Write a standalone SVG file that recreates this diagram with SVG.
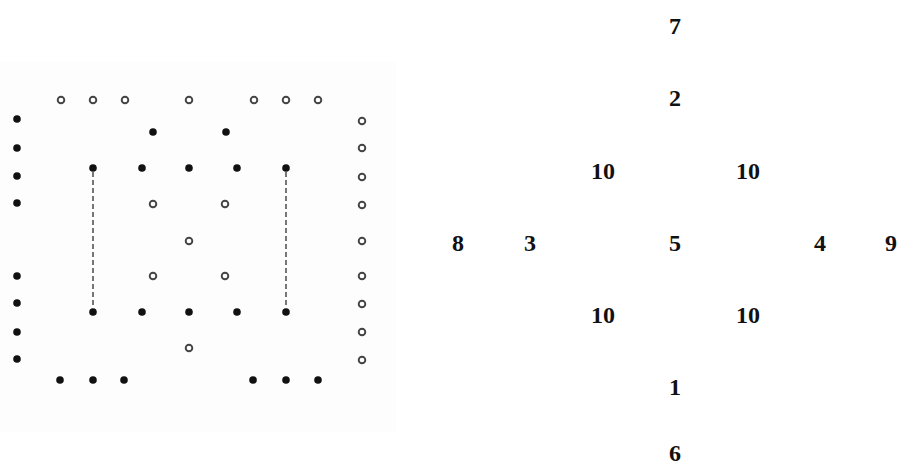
<svg xmlns="http://www.w3.org/2000/svg" width="900" height="468" viewBox="0 0 900 468">
<style>
.f{fill:#111}
.h{fill:#fff;stroke:#444;stroke-width:1.9}
.d{stroke:#555;stroke-width:1.6;stroke-dasharray:5 3;fill:none}
.n{font-family:"Liberation Serif","Times New Roman",serif;font-weight:bold;font-size:24px;fill:#111;text-anchor:middle}
</style>
<rect width="900" height="468" fill="#fff"/>
<rect x="0" y="62" width="396" height="370" fill="#fdfdfd"/>
<g id="connectors">
<line class="d" x1="93" y1="172" x2="93" y2="308"/>
<line class="d" x1="286" y1="172" x2="286" y2="308"/>
</g>
<g id="top-hollow">
<circle class="h" cx="61" cy="100" r="3.3"/><circle class="h" cx="93" cy="100" r="3.3"/><circle class="h" cx="125" cy="100" r="3.3"/>
<circle class="h" cx="189" cy="100" r="3.3"/>
<circle class="h" cx="254" cy="100" r="3.3"/><circle class="h" cx="286" cy="100" r="3.3"/><circle class="h" cx="318" cy="100" r="3.3"/>
</g>
<g id="left-filled">
<circle class="f" cx="17" cy="119" r="3.8"/><circle class="f" cx="17" cy="148" r="3.8"/><circle class="f" cx="17" cy="176" r="3.8"/><circle class="f" cx="17" cy="203" r="3.8"/>
<circle class="f" cx="17" cy="276" r="3.8"/><circle class="f" cx="17" cy="303" r="3.8"/><circle class="f" cx="17" cy="332" r="3.8"/><circle class="f" cx="17" cy="359" r="3.8"/>
</g>
<g id="right-hollow">
<circle class="h" cx="362" cy="121" r="3.3"/><circle class="h" cx="362" cy="148" r="3.3"/><circle class="h" cx="362" cy="177" r="3.3"/><circle class="h" cx="362" cy="205" r="3.3"/><circle class="h" cx="362" cy="241" r="3.3"/>
<circle class="h" cx="362" cy="276" r="3.3"/><circle class="h" cx="362" cy="304" r="3.3"/><circle class="h" cx="362" cy="332" r="3.3"/><circle class="h" cx="362" cy="360" r="3.3"/>
</g>
<g id="bottom-filled">
<circle class="f" cx="60" cy="380" r="3.8"/><circle class="f" cx="93" cy="380" r="3.8"/><circle class="f" cx="124" cy="380" r="3.8"/>
<circle class="f" cx="253" cy="380" r="3.8"/><circle class="f" cx="286" cy="380" r="3.8"/><circle class="f" cx="318" cy="380" r="3.8"/>
</g>
<g id="inner">
<circle class="f" cx="153" cy="132" r="3.8"/><circle class="f" cx="226" cy="132" r="3.8"/>
<circle class="f" cx="93" cy="168" r="3.8"/><circle class="f" cx="142" cy="168" r="3.8"/><circle class="f" cx="189" cy="168" r="3.8"/><circle class="f" cx="237" cy="168" r="3.8"/><circle class="f" cx="286" cy="168" r="3.8"/>
<circle class="h" cx="153" cy="204" r="3.3"/><circle class="h" cx="225" cy="204" r="3.3"/>
<circle class="h" cx="189" cy="241" r="3.3"/>
<circle class="h" cx="153" cy="276" r="3.3"/><circle class="h" cx="225" cy="276" r="3.3"/>
<circle class="f" cx="93" cy="312" r="3.8"/><circle class="f" cx="142" cy="312" r="3.8"/><circle class="f" cx="189" cy="312" r="3.8"/><circle class="f" cx="237" cy="312" r="3.8"/><circle class="f" cx="286" cy="312" r="3.8"/>
<circle class="h" cx="189" cy="348" r="3.3"/>
</g>
<g id="numbers">
<text class="n" x="675" y="34">7</text>
<text class="n" x="675" y="106">2</text>
<text class="n" x="603" y="179">10</text>
<text class="n" x="748" y="179">10</text>
<text class="n" x="458" y="251">8</text>
<text class="n" x="530" y="251">3</text>
<text class="n" x="675" y="251">5</text>
<text class="n" x="820" y="251">4</text>
<text class="n" x="891" y="251">9</text>
<text class="n" x="603" y="323">10</text>
<text class="n" x="748" y="323">10</text>
<text class="n" x="675" y="395">1</text>
<text class="n" x="675" y="461">6</text>
</g>
</svg>
